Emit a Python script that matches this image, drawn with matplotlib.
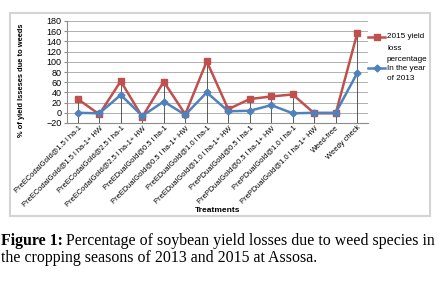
import numpy as np
import matplotlib.pyplot as plt
from matplotlib.lines import Line2D
from matplotlib.patches import Rectangle

# data
treatments = [
    "PreECodalGold@1.5 l ha-1",
    "PreECodalGold@1.5 l ha-1+ HW",
    "PreECodalGold@2.5 l ha-1",
    "PreECodalGold@2.5 l ha-1+ HW",
    "PreEDualGold@0.5 l ha-1",
    "PreEDualGold@0.5 l ha-1+ HW",
    "PreEDualGold@1.0 l ha-1",
    "PreEDualGold@1.0 l ha-1+ HW",
    "PrePDualGold@0.5 l ha-1",
    "PrePDualGold@0.5 l ha-1+ HW",
    "PrePDualGold@1.0 l ha-1",
    "PrePDualGold@1.0 l ha-1+ HW",
    "Weed-free",
    "Weedy check",
]
loss_2015 = [27, -3, 62, -8, 61, -3, 101, 7, 27, 32, 36, -1, -1, 156]
loss_2013 = [0, -1, 35, -6, 22, -4, 40, 3, 4, 15, -1, 0, 0, 78]

red = "#C0504D"
blue = "#4F81BD"

plt.rcParams['font.family'] = ['Liberation Sans', 'DejaVu Sans']

fig = plt.figure(figsize=(4.43, 2.84), dpi=100)
W, H = 443, 284

# chart frame
fig.add_artist(Rectangle((10 / W, 1 - 216 / H), 420 / W, 203 / H, transform=fig.transFigure,
                         fill=False, edgecolor="#d4d4d4", lw=1.5))

ax = fig.add_axes([67 / W, 1 - 123 / H, 301 / W, 102 / H])
x = np.arange(len(treatments))

# drop lines
top = np.maximum(loss_2015, loss_2013)
ax.vlines(x, -20, top, color="#404040", lw=0.6, zorder=2)

ax.plot(x, loss_2015, color=red, lw=1.8, marker="s", ms=4.5, zorder=3)
ax.plot(x, loss_2013, color=blue, lw=1.8, marker="D", ms=3.5, zorder=4)

ax.set_xlim(-0.5, len(treatments) - 0.5)
ax.set_ylim(-20, 180)
ax.set_yticks(np.arange(-20, 181, 20))
ax.grid(axis="y", color="#b0b0b0", lw=0.7)
ax.set_axisbelow(True)
for s in ["top", "right"]:
    ax.spines[s].set_visible(False)
ax.spines["left"].set_color("#8c8c8c")
ax.spines["bottom"].set_color("#8c8c8c")
ax.tick_params(axis="y", labelsize=6.5, length=2, color="#8c8c8c", pad=2)
ax.tick_params(axis="x", length=0, pad=1)
ax.set_xticks(x)
ax.set_xticklabels(treatments, rotation=45, ha="right", rotation_mode="anchor", fontsize=5.4)

fig.text(22 / W, 1 - 80 / H, "% of yield lsseses due to weeds", rotation=90,
         ha="center", va="center", fontsize=5.4, fontweight="bold")
fig.text(218 / W, 1 - 210 / H, "Treatments", ha="center", va="center",
         fontsize=6, fontweight="bold")

# legend drawn like the Excel one
fig.add_artist(Line2D([368 / W, 385 / W], [1 - 37 / H, 1 - 37 / H], color=red, lw=1.8,
                      transform=fig.transFigure))
fig.add_artist(Line2D([376.5 / W], [1 - 37 / H], color=red, marker="s", ms=4.5,
                      transform=fig.transFigure))
fig.add_artist(Line2D([368 / W, 385 / W], [1 - 68 / H, 1 - 68 / H], color=blue, lw=1.8,
                      transform=fig.transFigure))
fig.add_artist(Line2D([376.5 / W], [1 - 68 / H], color=blue, marker="D", ms=3.5,
                      transform=fig.transFigure))
for txt, yy in [("2015 yield", 37), ("loss", 48), ("percentage", 59),
                ("In the year", 68), ("of 2013", 78)]:
    fig.text(387 / W, 1 - yy / H, txt, ha="left", va="center", fontsize=5.9)

# caption
cap = dict(family=["Liberation Serif", "DejaVu Serif"], fontsize=11.4, va="center")
t = fig.text(1 / W, 1 - 241 / H, "Figure 1:", fontweight="bold", **cap)
fig.canvas.draw()
bb = t.get_window_extent()
fig.text(bb.x1 / W + 3 / W, 1 - 241 / H,
         "Percentage of soybean yield losses due to weed species in", **cap)
fig.text(1 / W, 1 - 258 / H, "the cropping seasons of 2013 and 2015 at Assosa.", **cap)

fig.savefig("out.png", dpi=100)
